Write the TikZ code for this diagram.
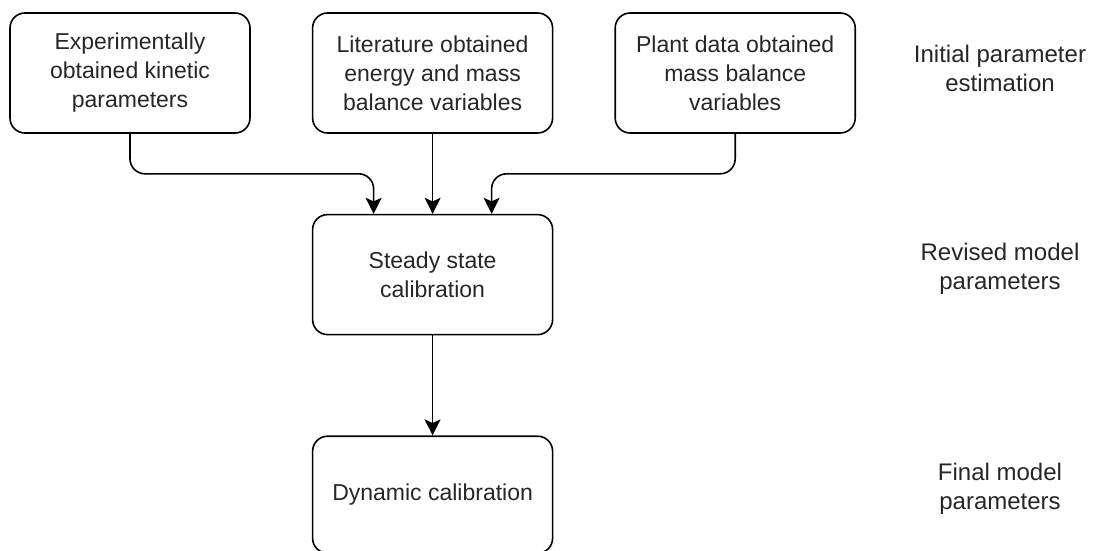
\documentclass[tikz,border=0pt]{standalone}
\usepackage{fontspec}
\setmainfont{Liberation Sans}
\usepackage{tikz}
\usetikzlibrary{arrows.meta, positioning}

\begin{document}
\begin{tikzpicture}[
    x=0.5pt, y=-0.5pt,
    node distance=40pt and 30.5pt,
    box/.style={rectangle, draw, line width=0.8pt, rounded corners=7.5pt, minimum width=120pt, minimum height=60pt, inner sep=0pt, align=center, text=black!85, font=\fontsize{11.5}{14.5}\selectfont},
    stage/.style={align=center, text=black!85, font=\fontsize{12}{14.5}\selectfont},
    arrow/.style={-{Stealth[length=8pt, width=8pt, inset=1.8pt]}, line width=0.8pt, rounded corners=7.5pt},
]
    \useasboundingbox (0,0) rectangle (1097,551);

    % Row 1: parameter sources
    \node[box] (exp) at (130,73) {Experimentally\\obtained kinetic\\parameters};
    \node[box, right=of exp] (lit) {Literature obtained\\energy and mass\\balance variables};
    \node[box, right=of lit] (plant) {Plant data obtained\\mass balance\\variables};

    % Calibration steps
    \node[box, below=of lit] (steady) {Steady state\\calibration};
    \node[box, below=50pt of steady, minimum height=58.5pt] (dyn) {Dynamic calibration};

    % Stage labels
    \node[stage] (init) at (1000,68) {Initial parameter\\estimation};
    \node[stage] (revised) at (1000,269) {Revised model\\parameters};
    \node[stage] (final) at (1000,489) {Final model\\parameters};

    \coordinate (inL) at ([xshift=-29.5pt]steady.north);
    \coordinate (inR) at ([xshift=29.5pt]steady.north);

    \draw[arrow] (exp.south) -- ++(0,40) -| (inL);
    \draw[arrow] (lit.south) -- (steady.north);
    \draw[arrow] (plant.south) -- ++(0,40) -| (inR);
    \draw[arrow] (steady.south) -- (dyn.north);

\end{tikzpicture}
\end{document}
